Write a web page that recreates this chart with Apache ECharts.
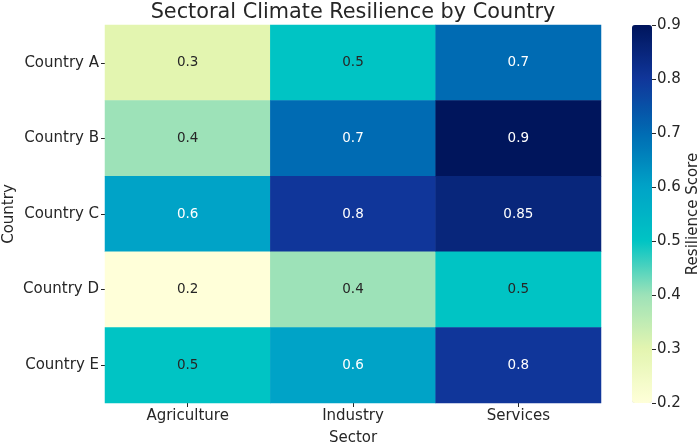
<!DOCTYPE html>
<html lang="en">
<head>
    <meta charset="UTF-8">
    <script src="https://cdn.jsdelivr.net/npm/echarts@6/dist/echarts.min.js"></script>
    <title>Sectoral Climate Resilience by Country</title>
    <style>
        html, body { margin: 0; padding: 0; background: #fff; }
        #main { width: 699px; height: 442px; }
    </style>
</head>
<body>
<div id="main"></div>
<script>
    // data
    var sectors = ['Agriculture', 'Industry', 'Services'];
    var countries = ['Country A', 'Country B', 'Country C', 'Country D', 'Country E'];
    var agriculture = [0.3, 0.4, 0.6, 0.2, 0.5];
    var industry = [0.5, 0.7, 0.8, 0.4, 0.6];
    var services = [0.7, 0.9, 0.85, 0.5, 0.8];
    var scoreTicks = [0.2, 0.3, 0.4, 0.5, 0.6, 0.7, 0.8, 0.9];

    // colour at each score tick, 0.2 .. 0.9
    var palette = ['#ffffd9', '#e3f5b0', '#9de2b8', '#00c4c4', '#00a3c7', '#006bb3', '#10369a', '#00155c'];
    var textColor = '#262626';
    var font = 'DejaVu Sans';

    var columns = [agriculture, industry, services];
    var cells = [];
    for (var x = 0; x < sectors.length; x++) {
        for (var y = 0; y < countries.length; y++) {
            var v = columns[x][y];
            cells.push({
                value: [x, y, v],
                label: { color: v > 0.55 ? '#ffffff' : textColor }
            });
        }
    }

    var myChart = echarts.init(document.getElementById('main'));
    var option = {
        animation: false,
        textStyle: { fontFamily: font, color: textColor },
        title: {
            text: 'Sectoral Climate Resilience by Country',
            left: 353,
            textAlign: 'center',
            top: 0,
            padding: [2, 0, 0, 0],
            textStyle: { fontFamily: font, fontSize: 20.8, fontWeight: 'normal', color: textColor }
        },
        grid: [
            { left: 105, right: 98, top: 25, bottom: 39, outerBoundsMode: 'none' },
            { left: 632, width: 20, top: 25, bottom: 39, outerBoundsMode: 'none' }
        ],
        xAxis: [{
            type: 'category',
            data: sectors,
            gridIndex: 0,
            name: 'Sector',
            nameLocation: 'middle',
            nameGap: 28,
            nameMoveOverlap: false,
            nameTextStyle: { fontSize: 15, color: textColor },
            axisLine: { show: false },
            axisTick: { show: true, alignWithLabel: true, length: 4, lineStyle: { color: textColor } },
            axisLabel: { fontSize: 15, color: textColor, margin: 6 },
            splitLine: { show: false }
        }, {
            type: 'value',
            gridIndex: 1,
            min: 0,
            max: 1,
            show: false
        }],
        yAxis: [{
            type: 'category',
            data: countries,
            inverse: true,
            gridIndex: 0,
            name: 'Country',
            nameLocation: 'middle',
            nameGap: 88,
            nameMoveOverlap: false,
            nameTextStyle: { fontSize: 15, color: textColor },
            axisLine: { show: false },
            axisTick: { show: true, alignWithLabel: true, length: 4, lineStyle: { color: textColor } },
            axisLabel: { fontSize: 15, color: textColor, margin: 6 },
            splitLine: { show: false }
        }, {
            type: 'value',
            gridIndex: 1,
            position: 'right',
            min: 0.2,
            max: 0.9,
            interval: 0.1,
            name: 'Resilience Score',
            nameLocation: 'middle',
            nameRotate: 90,
            nameGap: 34,
            nameMoveOverlap: false,
            nameTextStyle: { fontSize: 15, color: textColor },
            axisLine: { show: false, onZero: false },
            axisTick: { show: true, length: 4, lineStyle: { color: textColor } },
            axisLabel: {
                fontSize: 15,
                color: textColor,
                margin: 5,
                formatter: function (val) {
                    for (var i = 0; i < scoreTicks.length; i++) {
                        if (Math.abs(scoreTicks[i] - val) < 1e-6) return scoreTicks[i].toFixed(1);
                    }
                    return '';
                }
            },
            splitLine: { show: false }
        }],
        visualMap: {
            type: 'continuous',
            min: 0.2,
            max: 0.9,
            seriesIndex: 0,
            calculable: false,
            hoverLink: false,
            orient: 'vertical',
            left: 632,
            top: 25,
            padding: 0,
            itemWidth: 20,
            itemHeight: 378,
            textGap: 0,
            inRange: { color: palette }
        },
        series: [{
            type: 'heatmap',
            xAxisIndex: 0,
            yAxisIndex: 0,
            data: cells,
            label: {
                show: true,
                fontFamily: font,
                fontSize: 13.5,
                formatter: function (p) { return String(p.value[2]); }
            },
            itemStyle: { borderWidth: 0 },
            emphasis: { disabled: true }
        }]
    };
    myChart.setOption(option);
</script>
</body>
</html>
